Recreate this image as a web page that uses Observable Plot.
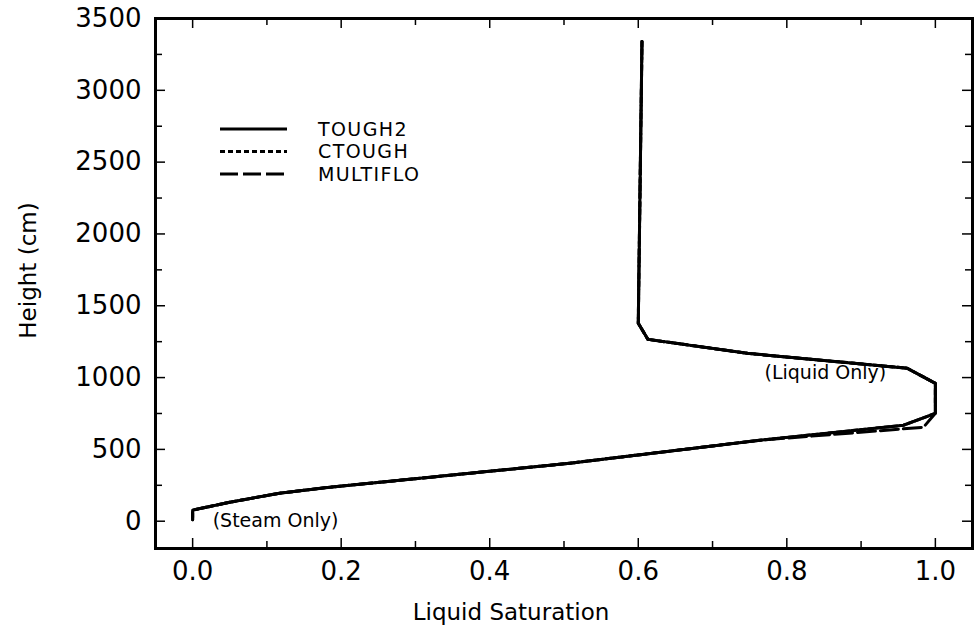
<!DOCTYPE html>
<html><head><meta charset="utf-8">
<script src="https://cdn.jsdelivr.net/npm/d3@7"></script>
<script src="https://cdn.jsdelivr.net/npm/@observablehq/plot@0.6"></script>
<style>body{margin:0;background:#fff} svg{display:block}</style>
</head><body><div id="chart"></div>
<script>
// Series data (height in cm, liquid saturation)
const seriesNames = ["TOUGH2", "CTOUGH", "MULTIFLO"];
const tough2Height = [3340, 1378, 1266, 1169, 1065, 960, 751, 668, 564, 404, 334, 271, 237, 195, 132, 77, 10];
const tough2Sat    = [0.605, 0.600, 0.613, 0.747, 0.962, 1.0, 1.0, 0.957, 0.764, 0.508, 0.373, 0.252, 0.185, 0.117, 0.050, 0.0, 0.0];
const ctoughHeight = [3340, 1378, 1266, 1169, 1065, 960, 751, 668, 564, 404, 334, 271, 237, 195, 132, 77, 10];
const ctoughSat    = [0.605, 0.600, 0.613, 0.747, 0.962, 1.0, 1.0, 0.957, 0.764, 0.508, 0.373, 0.252, 0.185, 0.117, 0.050, 0.0, 0.0];
const multifloHeight = [3340, 1378, 1266, 1169, 1065, 960, 751, 654, 564, 404, 334, 271, 237, 195, 132, 77, 10];
const multifloSat    = [0.605, 0.600, 0.613, 0.747, 0.962, 1.0, 1.0, 0.984, 0.764, 0.508, 0.373, 0.252, 0.185, 0.117, 0.050, 0.0, 0.0];

const xTickValues = [0.0, 0.2, 0.4, 0.6, 0.8, 1.0];
const xMinorTicks = [0.1, 0.3, 0.5, 0.7, 0.9];
const yTickValues = [0, 500, 1000, 1500, 2000, 2500, 3000, 3500];
const yMinorTicks = [250, 750, 1250, 1750, 2250, 2750, 3250];

const noteText = ["(Steam Only)", "(Liquid Only)"];
const noteSat = [0.027, 0.770];
const noteHeight = [0, 1030];

const xLabel = "Liquid Saturation";
const yLabel = "Height (cm)";

const dashes = {TOUGH2: null, CTOUGH: "5,3", MULTIFLO: "18,5"};

const rows = [];
[[seriesNames[0], tough2Height, tough2Sat], [seriesNames[1], ctoughHeight, ctoughSat], [seriesNames[2], multifloHeight, multifloSat]]
  .forEach(([name, hs, ss]) => hs.forEach((h, i) => rows.push({series: name, height: h, sat: ss[i]})));
const notes = noteText.map((t, i) => ({text: t, sat: noteSat[i], height: noteHeight[i]}));

const W = 974, H = 637, mL = 155, mR = 2, mT = 18, mB = 89;
const fw = W - mL - mR, fh = H - mT - mB;
const font = "'DejaVu Sans', sans-serif";

const lineMarks = seriesNames.map(name => Plot.line(rows.filter(r => r.series === name), {
  x: "sat", y: "height", stroke: "black", strokeWidth: 3, strokeDasharray: dashes[name], sort: null
}));

const chart = Plot.plot({
  width: W, height: H,
  marginLeft: mL, marginRight: mR, marginTop: mT, marginBottom: mB,
  style: {fontFamily: font, fontSize: "22px", background: "white", color: "black"},
  x: {domain: [-0.05, 1.05]},
  y: {domain: [-190, 3500]},
  marks: [
    Plot.axisX({ticks: xTickValues, tickFormat: d => d.toFixed(1), tickSize: 0, tickPadding: 13, label: null, fontSize: 26}),
    Plot.axisY({ticks: yTickValues, tickFormat: d => String(d), tickSize: 0, tickPadding: 14, label: null, fontSize: 26}),
    // inward ticks, bottom / top
    Plot.ruleX(xTickValues, {x: d => d, insetTop: fh - 10, strokeWidth: 1.5}),
    Plot.ruleX(xMinorTicks, {x: d => d, insetTop: fh - 7, strokeWidth: 1.5}),
    Plot.ruleX(xTickValues, {x: d => d, insetBottom: fh - 10, strokeWidth: 1.5}),
    Plot.ruleX(xMinorTicks, {x: d => d, insetBottom: fh - 7, strokeWidth: 1.5}),
    // inward ticks, left / right
    Plot.ruleY(yTickValues, {y: d => d, insetRight: fw - 10, strokeWidth: 1.5}),
    Plot.ruleY(yMinorTicks, {y: d => d, insetRight: fw - 7, strokeWidth: 1.5}),
    Plot.ruleY(yTickValues, {y: d => d, insetLeft: fw - 10, strokeWidth: 1.5}),
    Plot.ruleY(yMinorTicks, {y: d => d, insetLeft: fw - 7, strokeWidth: 1.5}),
    ...lineMarks,
    Plot.text(notes, {x: "sat", y: "height", text: "text", textAnchor: "start", fontSize: 19}),
    Plot.text([xLabel], {frameAnchor: "bottom", textAnchor: "middle", lineAnchor: "middle", dy: 64, dx: -53, fontSize: 23}),
    Plot.text([yLabel], {frameAnchor: "left", textAnchor: "middle", lineAnchor: "middle", rotate: -90, dx: -127, dy: -13, fontSize: 23}),
    Plot.frame({stroke: "black", strokeWidth: 3})
  ]
});

// Legend inside the frame (top-left)
const svg = d3.select(chart);
const lg = svg.append("g").attr("font-family", font).attr("font-size", 19)
  .attr("letter-spacing", "1.4px").attr("text-anchor", "start");
seriesNames.forEach((name, i) => {
  const y = 129 + i * 22.5;
  lg.append("line").attr("x1", 220).attr("x2", 287).attr("y1", y).attr("y2", y)
    .attr("stroke", "black").attr("stroke-width", 3)
    .attr("stroke-dasharray", dashes[name]);
  lg.append("text").attr("x", 318).attr("y", y).attr("dy", "0.36em").attr("fill", "black").text(name);
});

document.getElementById("chart").appendChild(chart);
</script>
</body></html>
